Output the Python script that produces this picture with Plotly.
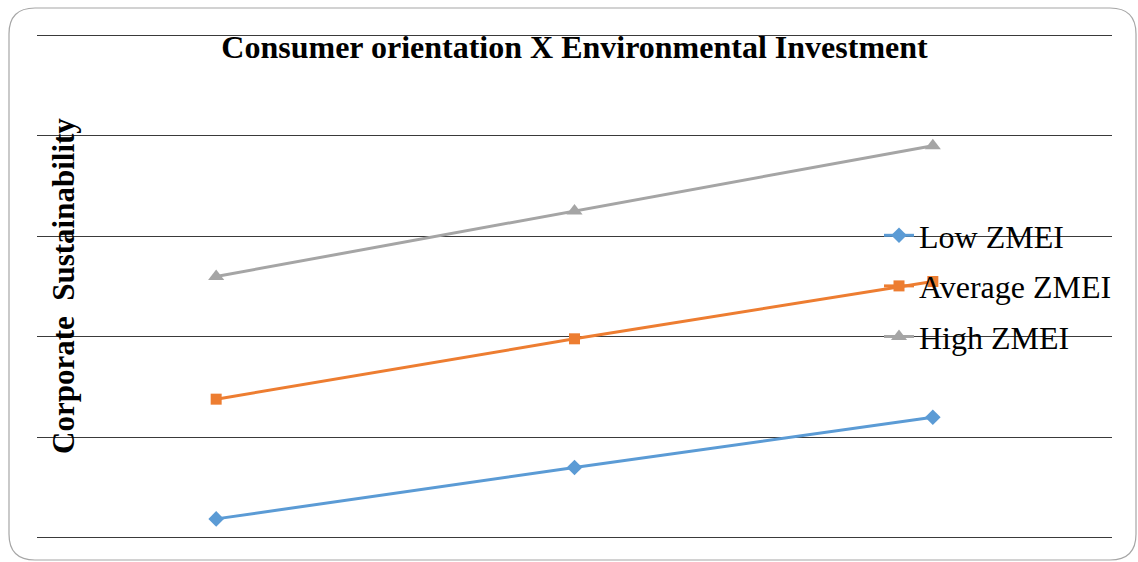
import plotly.graph_objects as go

# Moderator levels (x) and predicted Corporate Sustainability per ZMEI group
levels = ["Low", "Average", "High"]
low_zmei = [0.19, 0.70, 1.20]
avg_zmei = [1.38, 1.98, 2.55]
high_zmei = [2.60, 3.25, 3.90]

series_names = ["Low ZMEI", "Average ZMEI", "High ZMEI"]
series_colors = ["#5B9BD5", "#ED7D31", "#A5A5A5"]
series_symbols = ["diamond", "square", "triangle-up"]
series_sizes = [12, 11, 14]

W, H = 1138, 562
# a small pad on the value axis keeps the 0 and 5 gridlines visible
PAD = 0.02
ML, MR, MT, MB = 37, 26, 33, 22
PW, PH = W - ML - MR, H - MT - MB

SERIF = "Liberation Serif, Times New Roman, serif"

fig = go.Figure()
for name, vals, col, sym, sz in zip(series_names, [low_zmei, avg_zmei, high_zmei],
                                    series_colors, series_symbols, series_sizes):
    fig.add_trace(go.Scatter(
        x=levels, y=vals, name=name, mode="lines+markers",
        line=dict(color=col, width=3),
        marker=dict(symbol=sym, size=sz, color=col),
        legendgroup=name,
    ))


def px(x, y):
    """Pixel position on the page -> paper coordinates."""
    return (x - ML) / PW, 1 - (y - MT) / PH


def rounded_rect(x0, y0, x1, y1, r):
    def p(x, y):
        a, b = px(x, y)
        return f"{a:.5f},{b:.5f}"
    d = f"M{p(x0 + r, y0)} L{p(x1 - r, y0)} Q{p(x1, y0)} {p(x1, y0 + r)} "
    d += f"L{p(x1, y1 - r)} Q{p(x1, y1)} {p(x1 - r, y1)} "
    d += f"L{p(x0 + r, y1)} Q{p(x0, y1)} {p(x0, y1 - r)} "
    d += f"L{p(x0, y0 + r)} Q{p(x0, y0)} {p(x0 + r, y0)} Z"
    return d


# Chart-area frame with rounded corners
fig.add_shape(type="path", xref="paper", yref="paper",
              path=rounded_rect(9, 8, 1136, 560, 26),
              line=dict(color="#A6A6A6", width=1.2), layer="below")

# Vertical axis title drawn inside the frame
ax, ay = px(63, 286)
fig.add_annotation(x=ax, y=ay, xref="paper", yref="paper",
                   text="<b>Corporate  Sustainability</b>", textangle=-90,
                   showarrow=False, xanchor="center", yanchor="middle",
                   font=dict(family=SERIF, size=31, color="#000000"))

fig.update_layout(
    width=W, height=H,
    margin=dict(l=ML, r=MR, t=MT, b=MB),
    paper_bgcolor="white", plot_bgcolor="white",
    title=dict(text="<b>Consumer orientation X Environmental Investment</b>",
               x=574.5 / W, xanchor="center",
               y=1 - 47 / H, yanchor="middle", yref="container",
               font=dict(family=SERIF, size=32, color="#000000")),
    xaxis=dict(range=[-0.5, 2.5], showticklabels=False, showgrid=False,
               zeroline=False, showline=False, ticks=""),
    yaxis=dict(range=[-PAD, 5 + PAD], dtick=1, tick0=0, showticklabels=False,
               showgrid=True, gridcolor="#3A3A3A", gridwidth=1,
               zeroline=False, showline=False, ticks=""),
    showlegend=True,
    legend=dict(x=px(879, 0)[0], y=px(0, 208)[1], xanchor="left", yanchor="top",
                bgcolor="rgba(0,0,0,0)", tracegroupgap=6,
                font=dict(family=SERIF, size=32, color="#000000")),
)

fig.write_html("out.html")
